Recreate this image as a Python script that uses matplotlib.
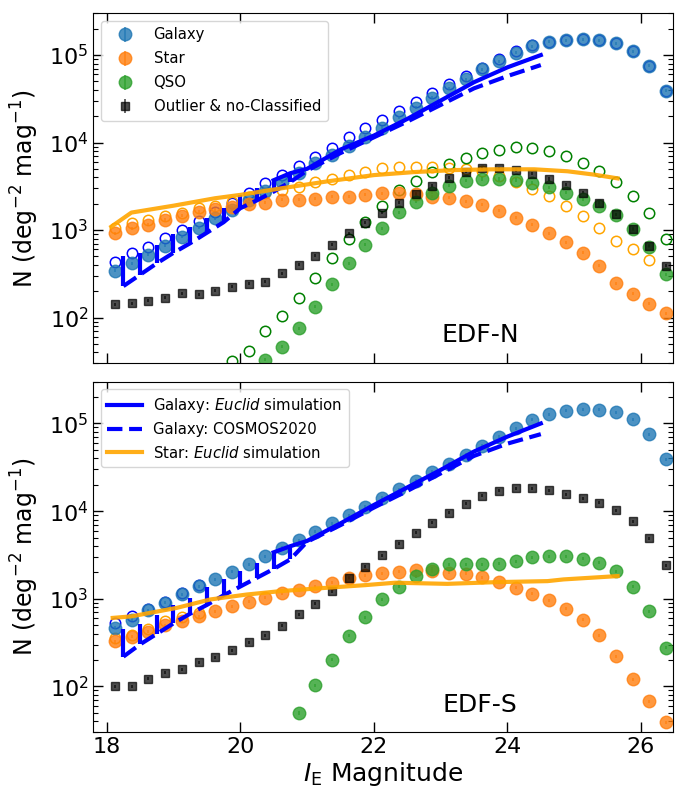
import numpy as np
import matplotlib
matplotlib.use("Agg")
import matplotlib.pyplot as plt

# ---------------- data ----------------
mag = np.arange(34) * 0.25 + 18.125  # bin centres

# EDF-N (top)
n_gal = [345, 419, 521, 661, 843, 1069, 1368, 1702, 2213, 2826, 3580, 4537, 5800, 7210, 9140,
         11660, 14790, 19450, 25000, 32560, 41700, 53200, 68600, 85400, 106300, 126700, 141800,
         148400, 151000, 148000, 136000, 111000, 75500, 39200]
n_gal_open = [437, 545, 648, 808, 1005, 1284, 1627, 2060, 2640, 3430, 4265, 5450, 6900, 8750, 11480,
              14550, 18100, 22970, 28840, 36600, 46300, 58100, 71700, 90000, 111000, 132000, 141800,
              148400, 151000, 148000, 136000, 111000, 75500, 39200]
n_star = [922, 1052, 1146, 1306, 1452, 1626, 1731, 1825, 1990, 2060, 2213, 2213, 2270, 2410, 2410,
          2525, 2640, 2640, 2570, 2410, 2350, 2150, 1940, 1670, 1390, 1146, 922, 728, 554, 393,
          248, 187, 144, 112]
n_star_open = [1069, 1219, 1306, 1452, 1585, 1778, 1889, 2113, 2410, 2680, 2876, 3140, 3524, 3840,
               4265, 4656, 5080, 5310, 5310, 5310, 5080, 5000, 4700, 4200, 3580, 2950, 2456, 1905,
               1465, 1069, 759, 605, 457]
mag_qso = mag[9:]
n_qso = [33, 46.7, 75.6, 133, 240, 419, 678, 1052, 1600, 2113, 2680, 3220, 3650, 3840, 3840, 3740,
         3490, 3090, 2680, 2250, 1905, 1494, 1024, 648, 313]
mag_qso_open = mag[7:]
n_qso_open = [31.5, 41.7, 70.5, 104, 169, 286, 484, 798, 1251, 1905, 2876, 3650, 4656, 5700, 6730,
              7550, 8240, 8840, 8750, 8020, 7040, 5800, 4740, 3580, 2476, 1560, 794]
n_out = [143, 146, 155, 169, 190, 186, 203, 226, 243, 258, 321, 401, 512, 678, 922, 1219, 1585,
         2060, 2590, 3220, 3970, 4656, 5080, 5080, 4865, 4385, 3840, 3280, 2680, 2060, 1518, 1033,
         661, 393]

# EDF-S (bottom)
s_gal = [467, 579, 735, 900, 1119, 1393, 1663, 2034, 2466, 3070, 3830, 4680, 5840, 7260, 9020,
         11240, 14250, 17740, 22080, 28000, 34900, 43800, 55500, 71000, 88300, 110000, 127700,
         139300, 145600, 143200, 133700, 112000, 75500, 39100]
s_gal_open = [532, 640, 770, 930, 1150, 1420]
s_star = [328, 368, 420, 499, 565, 633, 722, 823, 924, 1026, 1150, 1255, 1393, 1523, 1707, 1862,
          1946, 2034, 2105, 2066, 1981, 1930, 1768, 1550, 1336, 1141, 964, 769, 580, 384, 221, 120,
          67.6, 38.9]
s_star_open = [359, 391, 450, 556, 618, 692]
s_mag_qso = mag[11:]
s_qso = [49.8, 103, 202, 381, 617, 982, 1372, 1815, 2203, 2467, 2467, 2467, 2513, 2690, 2990, 3070,
         3070, 2867, 2577, 2066, 1372, 722, 275]
s_out = [100, 100, 123, 143, 158, 190, 215, 259, 319, 384, 495, 662, 877, 1222, 1738, 2323, 3150,
         4254, 5680, 7390, 9620, 12190, 14900, 17000, 18240, 18240, 17300, 15570, 14000, 12400,
         10300, 7710, 4890, 2410]

# model lines
edge_mag = [18.25, 18.5, 18.75, 19.0, 19.25, 19.5, 19.75, 20.0, 20.25, 20.5, 20.75]
sim_mag = [20.5, 20.75, 21.0, 21.5, 22.0, 22.5, 23.0, 23.5, 24.0, 24.5]
cos_mag = [18.25, 18.5, 18.75, 19.0, 19.25, 19.5, 19.75, 20.0, 20.25, 20.5, 20.75, 21.0, 21.5,
           22.0, 22.5, 23.0, 23.5, 24.0, 24.5]

# EDF-N model curves
n_edge_top = [501, 550, 676, 891, 1096, 1380, 1778, 2512, 3020, 3715, 4467]
n_edge_bot = [229, 309, 417, 550, 708, 933, 1230, 1778, 2188, 2754, 3548]
n_gal_sim = [3715, 4467, 5012, 8318, 12023, 18621, 30200, 48978, 72444, 100000]
n_cos = [229, 309, 417, 550, 708, 933, 1230, 1778, 2188, 2754, 3548, 4786, 7586, 11482, 17378,
         26915, 41687, 57544, 76913]
n_star_sim_mag = [18.07, 18.37, 19.0, 19.62, 20.0, 20.62, 21.3, 22.0, 22.6, 23.2, 23.8, 24.4, 24.9,
                  25.3, 25.65]
n_star_sim = [1096, 1585, 1900, 2310, 2525, 3005, 3600, 4250, 4600, 4850, 4950, 4950, 4700, 4300,
              3900]

# EDF-S model curves
s_edge_top = [447, 513, 661, 851, 1023, 1349, 1660, 2089, 2570, 3388, 3981]
s_edge_bot = [219, 302, 398, 525, 676, 851, 1096, 1380, 1738, 2188, 2818]
s_gal_sim = [3388, 3981, 4571, 7244, 11749, 18621, 29512, 47863, 70795, 100000]
s_cos = [219, 302, 398, 525, 676, 851, 1096, 1380, 1738, 2188, 2818, 4467, 6918, 10965, 16982,
         26915, 42658, 58884, 75509]
s_star_sim_mag = [18.09, 18.37, 19.05, 19.55, 20.1, 20.6, 21.2, 21.87, 22.32, 23.1, 23.85, 24.6,
                  24.84, 25.65]
s_star_sim = [605, 630, 788, 982, 1119, 1222, 1320, 1431, 1525, 1480, 1550, 1590, 1663, 1815]

xticks = [18, 20, 22, 24, 26]

# ---------------- plot ----------------
fig = plt.figure(figsize=(6.75, 7.89), dpi=100)
ax1 = fig.add_axes([0.1383, 0.5395, 0.8588, 0.4436])
ax2 = fig.add_axes([0.1383, 0.0719, 0.8588, 0.4444])

C_GAL, C_STAR, C_QSO = "tab:blue", "tab:orange", "tab:green"


def filled(ax, x, y, color, label=None, marker="o", ms=9, alpha=0.8):
    y = np.asarray(y, float)
    return ax.errorbar(x, y, yerr=0.04 * y, fmt=marker, color=color, ms=ms, alpha=alpha,
                       elinewidth=1.2, label=label, zorder=2)


def hollow(ax, x, y, color):
    ax.plot(x, y, "o", mfc="none", mec=color, ms=7.5, mew=1.1, zorder=2)


def lines(ax, etop, ebot, gsim, cos, smag, ssim):
    ax.plot(sim_mag, gsim, "-", color="blue", lw=3, zorder=4,
            label=r"Galaxy: $\it{Euclid}$ simulation")
    ax.vlines(edge_mag, ebot, etop, color="blue", lw=3, zorder=4)
    ax.plot(cos_mag, cos, "--", color="blue", lw=3, zorder=4, label="Galaxy: COSMOS2020")
    ax.plot(smag, ssim, "-", color="orange", lw=3, alpha=0.9, zorder=4,
            label=r"Star: $\it{Euclid}$ simulation")


# top panel
hollow(ax1, mag, n_gal_open, "blue")
hollow(ax1, mag[:len(n_star_open)], n_star_open, "orange")
hollow(ax1, mag_qso_open, n_qso_open, "green")
h1 = filled(ax1, mag, n_gal, C_GAL, "Galaxy")
h2 = filled(ax1, mag, n_star, C_STAR, "Star")
h3 = filled(ax1, mag_qso, n_qso, C_QSO, "QSO")
h4 = filled(ax1, mag, n_out, "k", "Outlier & no-Classified", marker="s", ms=5.5, alpha=0.7)
lines(ax1, n_edge_top, n_edge_bot, n_gal_sim, n_cos, n_star_sim_mag, n_star_sim)
ax1.legend(handles=[h1, h2, h3, h4], loc="upper left", fontsize=10.7, handlelength=2.3,
           borderpad=0.45, labelspacing=0.6, handletextpad=0.8, bbox_to_anchor=(0.0, 1.0))
ax1.text(0.667, 0.081, "EDF-N", transform=ax1.transAxes, fontsize=18, ha="center", va="center")

# bottom panel
hollow(ax2, mag[:len(s_gal_open)], s_gal_open, "blue")
hollow(ax2, mag[:len(s_star_open)], s_star_open, "orange")
filled(ax2, mag, s_gal, C_GAL)
filled(ax2, mag, s_star, C_STAR)
filled(ax2, s_mag_qso, s_qso, C_QSO)
filled(ax2, mag, s_out, "k", marker="s", ms=5.5, alpha=0.7)
lines(ax2, s_edge_top, s_edge_bot, s_gal_sim, s_cos, s_star_sim_mag, s_star_sim)
ax2.legend(loc="upper left", fontsize=10.7, handlelength=2.35, borderpad=0.45,
           labelspacing=0.5, handletextpad=0.7, bbox_to_anchor=(0.0, 1.0))
ax2.text(0.667, 0.078, "EDF-S", transform=ax2.transAxes, fontsize=18, ha="center", va="center")

for ax in (ax1, ax2):
    ax.set_yscale("log")
    ax.set_xlim(17.8, 26.48)
    ax.set_ylim(30, 3e5)
    ax.set_xticks(xticks)
    ax.tick_params(which="both", direction="in", top=True, right=True, labelsize=16)
    ax.tick_params(which="major", length=7, width=1)
    ax.tick_params(which="minor", length=3.5, width=0.8)
    ax.set_ylabel(r"N (deg$^{-2}$ mag$^{-1}$)", fontsize=17)
    ax.yaxis.set_label_coords(-0.09, 0.5)

ax1.tick_params(labelbottom=False)
ax2.set_xticklabels([str(t) for t in xticks])
ax2.set_xlabel(r"$I_{\rm E}$ Magnitude", fontsize=18, labelpad=2)

fig.savefig("out.png", dpi=100)
